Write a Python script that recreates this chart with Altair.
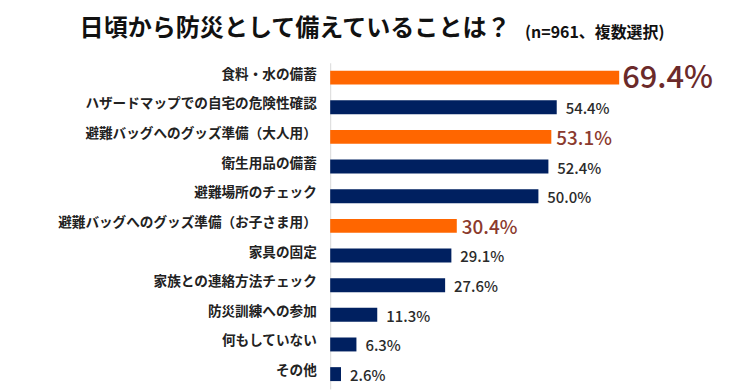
import altair as alt
import pandas as pd

categories = [
    "食料・水の備蓄",
    "ハザードマップでの自宅の危険性確認",
    "避難バッグへのグッズ準備（大人用）",
    "衛生用品の備蓄",
    "避難場所のチェック",
    "避難バッグへのグッズ準備（お子さま用）",
    "家具の固定",
    "家族との連絡方法チェック",
    "防災訓練への参加",
    "何もしていない",
    "その他",
]
values = [69.4, 54.4, 53.1, 52.4, 50.0, 30.4, 29.1, 27.6, 11.3, 6.3, 2.6]
top_item = "食料・水の備蓄"
highlighted = ["食料・水の備蓄", "避難バッグへのグッズ準備（大人用）", "避難バッグへのグッズ準備（お子さま用）"]

title_main = "日頃から防災として備えていることは？"
title_sub = "(n=961、複数選択)"

df = pd.DataFrame({"cat": categories, "val": values})
df["label"] = df["val"].map(lambda v: f"{v:.1f}%")

FONT = "Noto Sans CJK JP"
ORANGE = "#FF6600"
NAVY = "#002060"

hl_test = "indexof(" + str(highlighted).replace("'", '"') + ", datum.cat) >= 0"

y_enc = alt.Y(
    "cat:N",
    sort=categories,
    scale=alt.Scale(paddingInner=0.53, paddingOuter=0.265),
    axis=alt.Axis(
        title=None,
        ticks=False,
        domain=True,
        domainColor="#D9D9D9",
        domainWidth=1,
        labelFont=FONT,
        labelFontSize=13.7,
        labelFontWeight="bold",
        labelColor="#222222",
        labelPadding=14,
        labelLimit=300,
        labelOffset=-3,
    ),
)
x_enc = alt.X("val:Q", scale=alt.Scale(domain=[0, 80]), axis=None)

base = alt.Chart(df)

bars = base.mark_bar().encode(
    x=x_enc,
    y=y_enc,
    color=alt.condition(hl_test, alt.value(ORANGE), alt.value(NAVY)),
)

txt_normal = base.transform_filter("!(" + hl_test + ")").mark_text(
    align="left", baseline="middle", dx=9, dy=2, font=FONT, fontSize=15,
    fontWeight=500, color="#2A2A2A",
).encode(x=x_enc, y=alt.Y("cat:N", sort=categories), text="label:N")

txt_hl = base.transform_filter(hl_test + " && datum.cat != '" + top_item + "'").mark_text(
    align="left", baseline="middle", dx=5, dy=2, font=FONT, fontSize=19,
    fontWeight=500, color="#8B3A2E",
).encode(x=x_enc, y=alt.Y("cat:N", sort=categories), text="label:N")

txt_top = base.transform_filter("datum.cat == '" + top_item + "'").mark_text(
    align="left", baseline="middle", dx=3, dy=1, font=FONT, fontSize=31,
    fontWeight=500, color="#6B2A2A",
).encode(x=x_enc, y=alt.Y("cat:N", sort=categories), text="label:N")

t_main = alt.Chart(pd.DataFrame({"t": [title_main]})).mark_text(
    align="left", baseline="alphabetic", font=FONT, fontSize=24.2,
    fontWeight="bold", color="#111111",
).encode(x=alt.value(-252), y=alt.value(-27), text="t:N")

t_sub = alt.Chart(pd.DataFrame({"t": [title_sub]})).mark_text(
    align="left", baseline="alphabetic", font=FONT, fontSize=16,
    fontWeight="bold", color="#111111",
).encode(x=alt.value(196), y=alt.value(-25), text="t:N")

chart = alt.layer(bars, txt_normal, txt_hl, txt_top, t_main, t_sub).properties(
    width=335,
    height=328,
    autosize=alt.AutoSizeParams(type="none"),
    padding={"left": 324, "top": 54, "right": 60, "bottom": 2},
    background="white",
).configure_view(stroke=None)

chart.save("out.html", embed_options={"renderer": "svg", "actions": False})
